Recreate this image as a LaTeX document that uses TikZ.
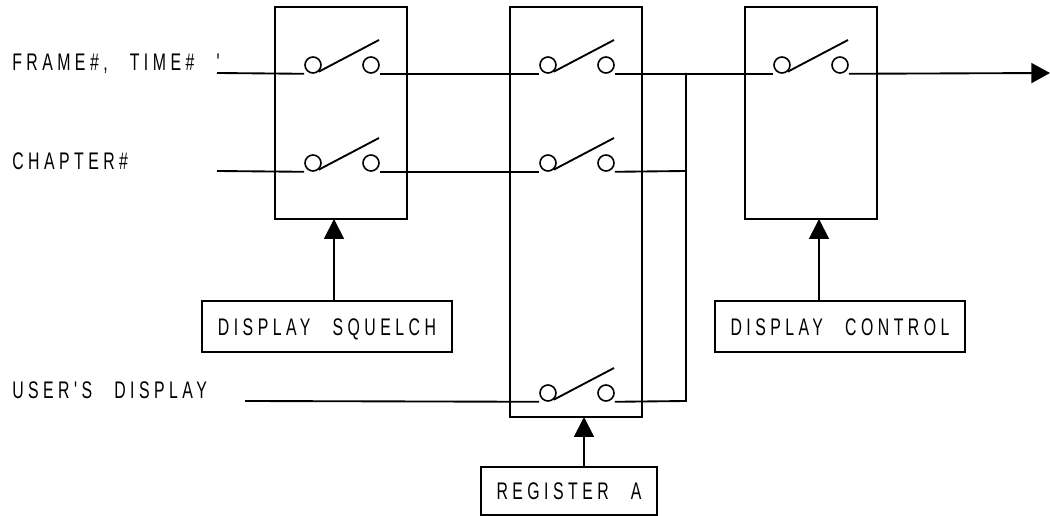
\documentclass[tikz,border=0pt]{standalone}
\usepackage{fontspec}
\usetikzlibrary{arrows.meta}
\newfontfamily\lblfont[FakeStretch=0.66,LetterSpace=18.6,WordSpace=2.5]{Liberation Sans}
\tikzset{
    wire/.style={line width=1.4pt},
    contact/.style={circle, draw, line width=1.2pt, minimum size=12pt, inner sep=0pt},
    switchbox/.style={rectangle, draw, line width=1.4pt, outer sep=0pt, anchor=north west, minimum width=99pt},
    ctrlbox/.style={rectangle, draw, line width=1.4pt, outer sep=0pt, anchor=north west, minimum width=187.5pt, minimum height=38.25pt, inner sep=0pt, text height=13pt, text depth=0pt, font=\lblfont\fontsize{18pt}{20pt}\selectfont},
    sigtext/.style={anchor=base west, inner sep=0pt, font=\lblfont\fontsize{18pt}{20pt}\selectfont},
    ctrlarrow/.style={wire, -{Triangle[length=15pt,width=15pt]}},
    outarrow/.style={wire, -{Triangle[length=14pt,width=15pt]}}
}
\begin{document}
\begin{tikzpicture}[x=0.75pt, y=-0.75pt]
    \useasboundingbox (0,0) rectangle (1050,516);

    % Switch boxes
    \node[switchbox, minimum height=159pt] (boxa) at (275,7) {};
    \node[switchbox, minimum height=307.5pt] (boxb) at (510,7) {};
    \node[switchbox, minimum height=159pt] (boxc) at (745,7) {};

    % Control boxes
    \node[ctrlbox] (squelch) at (202,301) {DISPLAY SQUELCH};
    \node[ctrlbox] (control) at (715,301) {DISPLAY CONTROL};
    \node[ctrlbox, minimum width=132pt, minimum height=36pt] (rega) at (481,467) {REGISTER A};

    % Signal names
    \node[sigtext] (frame) at (12,71) {FRAME\#, TIME\# '};
    \node[sigtext] (chapter) at (12,170) {CHAPTER\#};
    \node[sigtext] (user) at (12,399) {USER'S DISPLAY};

    % Switches
    \foreach \sw/\x/\y in {a1/313/65, a2/313/163, b1/548/65, b2/548/163, b3/548/393, c1/782/65} {
        \node[contact] (\sw l) at (\x,\y) {};
        \node[contact] (\sw r) at (\x+58,\y) {};
        \coordinate (\sw t) at (\x+66,\y-25);
        \draw[wire] (\sw l.-50) -- (\sw t);
    }

    % Free ends of the wires
    \coordinate (in1) at (217,73);
    \coordinate (in2) at (217,171);
    \coordinate (in3) at (245,401);
    \coordinate (out) at (1050,73);
    \coordinate (j1) at (686,73);
    \coordinate (j2) at (686,171);
    \coordinate (j3) at (686,401);

    % Wires
    \draw[wire] (in1) -- (a1l.south -| a1l.west);
    \draw[wire] (a1r.south -| a1r.east) -- (b1l.south -| b1l.west);
    \draw[wire] (b1r.south -| b1r.east) -- (c1l.south -| c1l.west);
    \draw[outarrow] (c1r.south -| c1r.east) -- (out);
    \draw[wire] (in2) -- (a2l.south -| a2l.west);
    \draw[wire] (a2r.south -| a2r.east) -- (b2l.south -| b2l.west);
    \draw[wire] (b2r.south -| b2r.east) -- (j2);
    \draw[wire] (in3) -- (b3l.south -| b3l.west);
    \draw[wire] (b3r.south -| b3r.east) -- (j3) -- (j1);

    % Control arrows
    \draw[ctrlarrow] (squelch.north -| 334,0) -- (boxa.south -| 334,0);
    \draw[ctrlarrow] (rega.north -| 584,0) -- (boxb.south -| 584,0);
    \draw[ctrlarrow] (control.north -| 819,0) -- (boxc.south -| 819,0);
\end{tikzpicture}
\end{document}
